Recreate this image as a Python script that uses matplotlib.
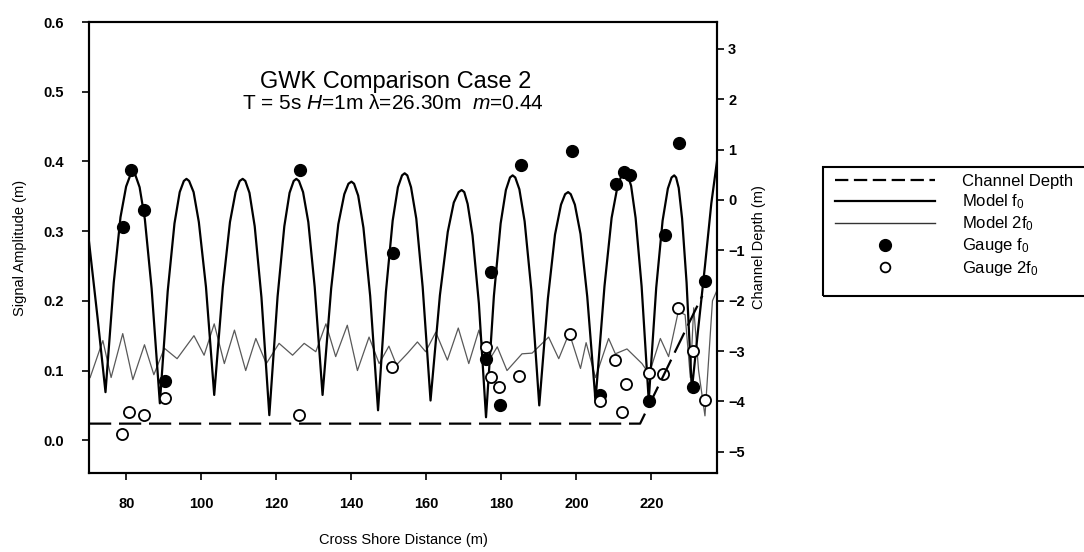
import matplotlib
matplotlib.use("Agg")
import matplotlib.pyplot as plt
from matplotlib.lines import Line2D
from matplotlib.patches import Rectangle

plt.rcParams['font.family'] = ['Liberation Sans', 'DejaVu Sans']
plt.rcParams['mathtext.fontset'] = 'custom'
plt.rcParams['mathtext.rm'] = 'Liberation Sans'
plt.rcParams['mathtext.it'] = 'Liberation Sans:italic'

# model amplitude at f0 (m) along the flume
f0_x = [70.0, 72.3, 74.4,
        76.6, 78.4, 79.9, 81.0, 81.7, 82.4, 83.5, 84.9, 86.7, 88.9,
        91.0, 92.8, 94.2, 95.3, 96.0, 96.7, 97.9, 99.3, 101.2, 103.4,
        105.7, 107.6, 109.1, 110.2, 111.0, 111.7, 112.8, 114.2, 116.0, 118.1,
        120.3, 122.1, 123.5, 124.6, 125.3, 126.0, 127.1, 128.5, 130.2, 132.3,
        134.6, 136.5, 138.1, 139.2, 140.0, 140.7, 141.8, 143.2, 145.0, 147.1,
        149.2, 151.0, 152.4, 153.5, 154.2, 154.9, 155.9, 157.3, 159.0, 161.1,
        163.6, 165.7, 167.3, 168.6, 169.4, 170.1, 171.0, 172.3, 174.0, 175.9,
        178.0, 179.8, 181.2, 182.3, 183.0, 183.7, 184.8, 186.2, 188.0, 190.1,
        192.4, 194.3, 195.9, 197.0, 197.8, 198.5, 199.6, 201.1, 202.9, 205.1,
        207.5, 209.4, 211.0, 212.2, 213.0, 213.6, 214.6, 215.8, 217.4, 219.3,
        221.3, 223.0, 224.4, 225.4, 226.1, 226.6, 227.3, 228.2, 229.4, 230.8,
        232.5, 234.3, 236.0, 237.5]
f0_y = [0.285, 0.175, 0.069,
        0.226, 0.320, 0.364, 0.380, 0.383, 0.380, 0.363, 0.317, 0.218, 0.053,
        0.214, 0.311, 0.356, 0.372, 0.375, 0.372, 0.356, 0.313, 0.220, 0.065,
        0.220, 0.313, 0.356, 0.372, 0.375, 0.372, 0.355, 0.307, 0.205, 0.036,
        0.206, 0.307, 0.355, 0.372, 0.375, 0.372, 0.356, 0.313, 0.220, 0.065,
        0.218, 0.310, 0.353, 0.368, 0.371, 0.368, 0.351, 0.305, 0.207, 0.043,
        0.213, 0.315, 0.363, 0.380, 0.383, 0.380, 0.363, 0.318, 0.220, 0.057,
        0.208, 0.299, 0.341, 0.356, 0.359, 0.356, 0.339, 0.294, 0.196, 0.033,
        0.207, 0.311, 0.359, 0.377, 0.380, 0.377, 0.360, 0.314, 0.215, 0.050,
        0.203, 0.295, 0.338, 0.353, 0.356, 0.353, 0.338, 0.296, 0.206, 0.057,
        0.221, 0.319, 0.365, 0.382, 0.385, 0.382, 0.365, 0.319, 0.221, 0.057,
        0.219, 0.315, 0.361, 0.377, 0.380, 0.377, 0.362, 0.318, 0.226, 0.072,
        0.160, 0.250, 0.340, 0.400]

# model amplitude at 2f0 (m)
f2_x = [70.3, 73.7, 75.9, 79.0, 81.7, 84.8, 87.3, 90.1, 93.5, 98.0,
        100.7, 103.4, 106.1, 108.8, 111.8, 114.5, 117.3, 120.7, 124.3, 127.4,
        130.5, 133.2, 135.8, 138.9, 141.6, 144.7, 147.4, 150.0, 152.0, 155.0,
        157.6, 159.8, 162.5, 165.6, 168.5, 171.3, 174.0, 176.2, 178.9, 181.5,
        185.5, 188.2, 192.6, 195.3, 198.1, 201.1, 202.6, 205.1, 208.6, 210.4,
        213.5, 217.5, 219.4, 222.4, 224.6, 227.2, 229.0, 230.4, 231.3, 232.6,
        234.3, 236.3, 237.5]
f2_y = [0.090, 0.143, 0.090, 0.153, 0.087, 0.137, 0.094, 0.132, 0.117, 0.150,
        0.122, 0.167, 0.110, 0.158, 0.100, 0.146, 0.110, 0.139, 0.122, 0.139,
        0.127, 0.167, 0.120, 0.165, 0.100, 0.148, 0.110, 0.135, 0.108, 0.125,
        0.141, 0.127, 0.155, 0.115, 0.161, 0.110, 0.158, 0.110, 0.134, 0.100,
        0.124, 0.125, 0.148, 0.117, 0.154, 0.103, 0.140, 0.090, 0.146, 0.124,
        0.131, 0.110, 0.095, 0.146, 0.120, 0.185, 0.180, 0.090, 0.190, 0.100,
        0.035, 0.200, 0.215]

# channel depth (m), right axis
depth_x = [70.0, 217.0, 233.6]
depth_y = [-4.44, -4.44, -1.90]

# gauge measurements
g1_x = [79.2, 81.2, 84.8, 90.3, 126.3, 151.1, 177.1, 176.0, 179.6, 185.1,
        198.9, 206.4, 210.6, 212.6, 214.2, 219.4, 223.7, 227.5, 231.2, 234.3]
g1_y = [0.306, 0.387, 0.331, 0.085, 0.388, 0.269, 0.242, 0.117, 0.051, 0.395,
        0.415, 0.065, 0.367, 0.385, 0.380, 0.056, 0.294, 0.426, 0.077, 0.229]
g2_x = [78.8, 80.8, 84.6, 90.3, 126.0, 150.9, 175.9, 177.1, 179.3, 184.8,
        198.4, 206.4, 210.4, 212.2, 213.3, 219.4, 223.2, 227.2, 231.2, 234.3]
g2_y = [0.009, 0.041, 0.036, 0.060, 0.036, 0.105, 0.134, 0.091, 0.077, 0.092,
        0.153, 0.057, 0.115, 0.041, 0.080, 0.096, 0.095, 0.190, 0.128, 0.058]

fig = plt.figure(figsize=(10.84, 5.52), dpi=100)
ax = fig.add_axes([0.0821, 0.1431, 0.5793, 0.8170])
ax2 = ax.twinx()

ax.plot(f0_x, f0_y, color='black', lw=1.6, zorder=3)
ax.plot(f2_x, f2_y, color='0.35', lw=0.9, zorder=2)
ax.plot(g1_x, g1_y, 'o', color='black', ms=8.5, zorder=4)
ax.plot(g2_x, g2_y, 'o', mfc='white', mec='black', mew=1.3, ms=8, zorder=5)
ax2.plot(depth_x, depth_y, color='black', lw=1.6, dashes=(10, 3.5))

ax.set_xlim(70, 237.5)
ax.set_ylim(-0.047, 0.6)
ax2.set_ylim(-5.42, 3.53)
ax.set_xticks(range(80, 221, 20))
ax.set_yticks([0.0, 0.1, 0.2, 0.3, 0.4, 0.5, 0.6])
ax.set_yticklabels(['0.0', '0.1', '0.2', '0.3', '0.4', '0.5', '0.6'])
ax2.set_yticks(range(-5, 4))

for a in (ax, ax2):
    for s in a.spines.values():
        s.set_linewidth(1.5)
    a.tick_params(direction='out', length=5, width=1.2, labelsize=10.5)
    for lab in a.get_xticklabels() + a.get_yticklabels():
        lab.set_fontweight('bold')
ax.tick_params(axis='x', pad=12)
ax.tick_params(axis='y', pad=13)
ax2.tick_params(axis='y', pad=3)

ax.set_xlabel('Cross Shore Distance (m)', fontsize=10.5, labelpad=16)
ax.set_ylabel('Signal Amplitude (m)', fontsize=10.5, labelpad=12)
ax2.set_ylabel('Channel Depth (m)', fontsize=10.5, labelpad=5)

ax.text(0.488, 0.866, 'GWK Comparison Case 2', transform=ax.transAxes,
        ha='center', va='center', fontsize=17)
ax.text(0.484, 0.820, 'T = 5s $H$=1m λ=26.30m  $m$=0.44', transform=ax.transAxes,
        ha='center', va='center', fontsize=15)

handles = [
    Line2D([], [], color='black', lw=1.6, dashes=(6, 2.5)),
    Line2D([], [], color='black', lw=1.6),
    Line2D([], [], color='0.2', lw=1.0),
    Line2D([], [], marker='o', ls='none', color='black', ms=8.5),
    Line2D([], [], marker='o', ls='none', mfc='white', mec='black', mew=1.3, ms=7),
]
labels = ['Channel Depth', 'Model f$_\\mathrm{0}$', 'Model 2f$_\\mathrm{0}$',
          'Gauge f$_\\mathrm{0}$', 'Gauge 2f$_\\mathrm{0}$']
fig.legend(handles, labels, loc='upper left',
           bbox_to_anchor=(835 / 1084, 1 - 174 / 552),
           fontsize=12, handlelength=6.0, handletextpad=1.6,
           labelspacing=0.2, borderpad=0, borderaxespad=0, frameon=False)
# legend box, open past the right edge of the figure
fig.add_artist(Rectangle((823 / 1084, 1 - 296 / 552), 0.3, 129 / 552,
                         transform=fig.transFigure, fill=False,
                         lw=1.5, ec='black'))

fig.savefig('out.png', dpi=100)
